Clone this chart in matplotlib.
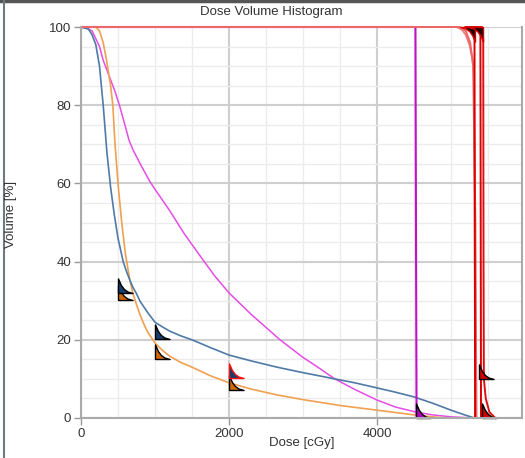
import numpy as np
import matplotlib.pyplot as plt
from matplotlib.path import Path
from matplotlib.lines import Line2D

plt.rcParams['font.family'] = ['Liberation Sans', 'DejaVu Sans']

# DVH curves (dose in cGy, volume in %)
blue_dose = [0, 100, 150, 200, 250, 300, 350, 400, 450, 500, 570, 620, 660, 700, 750, 800, 900,
             1000, 1100, 1200, 1350, 1500, 1750, 2000, 2300, 2650, 3000, 3430, 3700, 4000,
             4250, 4500, 4750, 5000, 5200, 5320]
blue_vol = [100, 99.5, 98, 95.5, 90, 80, 68, 59, 52, 46, 40, 37.2, 35.3, 33.5, 31.8, 29.8, 27,
            24.5, 23.3, 22.2, 21, 20, 18, 16.1, 14.6, 13, 11.6, 10, 9, 7.7,
            6.6, 5.4, 3.8, 2, 0.7, 0]

orange_dose = [0, 200, 250, 300, 350, 400, 430, 460, 500, 550, 600, 660, 700, 750, 800, 850,
               900, 1000, 1100, 1200, 1350, 1500, 1750, 2000, 2300, 2650, 3000, 3500, 4000,
               4500, 4800, 5000]
orange_vol = [100, 100, 99, 96, 91, 85, 80, 70, 60, 50, 42, 35.3, 32, 29, 26.3, 24,
              22, 19.2, 17.3, 15.8, 14.2, 13, 10.8, 9, 7.4, 5.9, 4.7, 3.2, 2,
              0.8, 0.2, 0]

pink_dose = [0, 100, 150, 250, 300, 390, 460, 527, 600, 650, 705, 800, 930, 1000, 1200, 1400,
             1650, 1800, 2000, 2300, 2690, 3000, 3200, 3430, 3700, 4000, 4250, 4530, 4750,
             5000, 5300]
pink_vol = [100, 99.5, 99, 95, 91.5, 87, 83.5, 79.5, 74.5, 71, 68.5, 65, 60.5, 58.5, 53, 47,
            40.4, 36.5, 32, 26.5, 20, 15.5, 13, 10, 7.3, 4.6, 2.8, 1.5, 0.8,
            0.3, 0]

magenta_dose = [0, 4520, 4527, 4535, 4600]
magenta_vol = [100, 100, 50, 0.5, 0]

red_curves = [
    ([0, 5080, 5150, 5200, 5250, 5290, 5310, 5320, 5330], [100, 100, 99.3, 98, 95.5, 92, 88, 60, 0], '#f07a7a'),
    ([0, 5120, 5200, 5260, 5300, 5330, 5345], [100, 100, 99, 96, 90, 50, 0], '#ee6666'),
    ([5200, 5300, 5318, 5322, 5326], [100, 100, 98, 50, 0], '#d80000'),
    ([5200, 5380, 5398, 5402, 5406], [100, 100, 98, 50, 0], '#d80000'),
    ([5200, 5420, 5436, 5440, 5445, 5470, 5520, 5600], [100, 100, 97, 40, 10, 5, 1.5, 0], '#e01010'),
]

# constraint flags: (dose, volume, fill, edge)
flags_up = [
    (500, 30.2, '#d06a00', 'black'),
    (500, 32, '#153e6e', 'black'),
    (1000, 15.1, '#d06a00', 'black'),
    (1000, 20.2, '#153e6e', 'black'),
    (2000, 7.2, '#d06a00', 'black'),
    (2000, 10.2, '#153e6e', '#ff1010'),
    (4527, 0, '#b000c0', 'black'),
    (5380, 10, '#d00000', 'black'),
    (5420, 0, '#d00000', 'black'),
]
flags_down = [
    (5324, 100, '#200000', '#d00000'),
    (5432, 100, '#200000', '#d00000'),
]

up_marker = Path([(0, 0), (0, 1), (0.2, 0.55), (0.4, 0.28), (0.65, 0.1), (1, 0), (0, 0)])
down_marker = Path([(0, 0), (0, -1), (-0.2, -0.55), (-0.4, -0.28), (-0.65, -0.1), (-1, 0), (0, 0)])

fig = plt.figure(figsize=(5.25, 4.58), dpi=100)
ax = fig.add_axes([81 / 525, 1 - 418 / 458, 441 / 525, 391 / 458])

ax.set_xlim(0, 5960)
ax.set_ylim(0, 100)
ax.set_xticks([0, 2000, 4000])
ax.set_yticks([0, 20, 40, 60, 80, 100])
ax.set_xticks(np.arange(0, 6000, 500), minor=True)
ax.set_yticks(np.arange(0, 101, 5), minor=True)
ax.grid(which='minor', color='#ececec', lw=1)
ax.grid(which='major', color='#cfcfcf', lw=1.5)
ax.set_axisbelow(True)
ax.tick_params(which='minor', length=0)
ax.tick_params(which='major', length=5, width=1, color='#999999', labelsize=9.5,
               labelcolor='#333333', pad=2)
for s in ['left', 'bottom', 'right']:
    ax.spines[s].set_color('#aaaaaa')
    ax.spines[s].set_linewidth(1.5)
ax.spines['top'].set_visible(False)

ax.plot(pink_dose, pink_vol, color='#e64ce6', lw=1.1, clip_on=False)
ax.plot(orange_dose, orange_vol, color='#f0a050', lw=1.2, clip_on=False)
ax.plot(blue_dose, blue_vol, color='#4f7aa8', lw=1.2, clip_on=False)
ax.plot(magenta_dose, magenta_vol, color='#c010c8', lw=1.5, clip_on=False)
for d, v, c in red_curves:
    ax.plot(d, v, color=c, lw=1.4, clip_on=False)

for d, v, fc, ec in flags_up:
    ax.plot([d], [v], marker=up_marker, ms=21, mfc=fc, mec=ec, mew=1, ls='none', clip_on=False)
for d, v, fc, ec in flags_down:
    ax.plot([d], [v], marker=down_marker, ms=21, mfc=fc, mec=ec, mew=1, ls='none', clip_on=False)

fig.text(271.5 / 525, 1 - 12 / 458, 'Dose Volume Histogram', ha='center', va='center',
         fontsize=9.5, color='#333333')
fig.text(302 / 525, 1 - 443 / 458, 'Dose [cGy]', ha='center', va='center',
         fontsize=9.5, color='#333333')
fig.text(11 / 525, 1 - 214 / 458, 'Volume [%]', ha='center', va='center', rotation=90,
         fontsize=9.5, color='#333333')

# window frame
fig.add_artist(Line2D([0, 1], [1 - 1 / 458, 1 - 1 / 458], color='#555555', lw=2.5))
fig.add_artist(Line2D([4 / 525, 4 / 525], [0, 1], color='#6a7a80', lw=1.5))

fig.savefig('out.png', dpi=100)
